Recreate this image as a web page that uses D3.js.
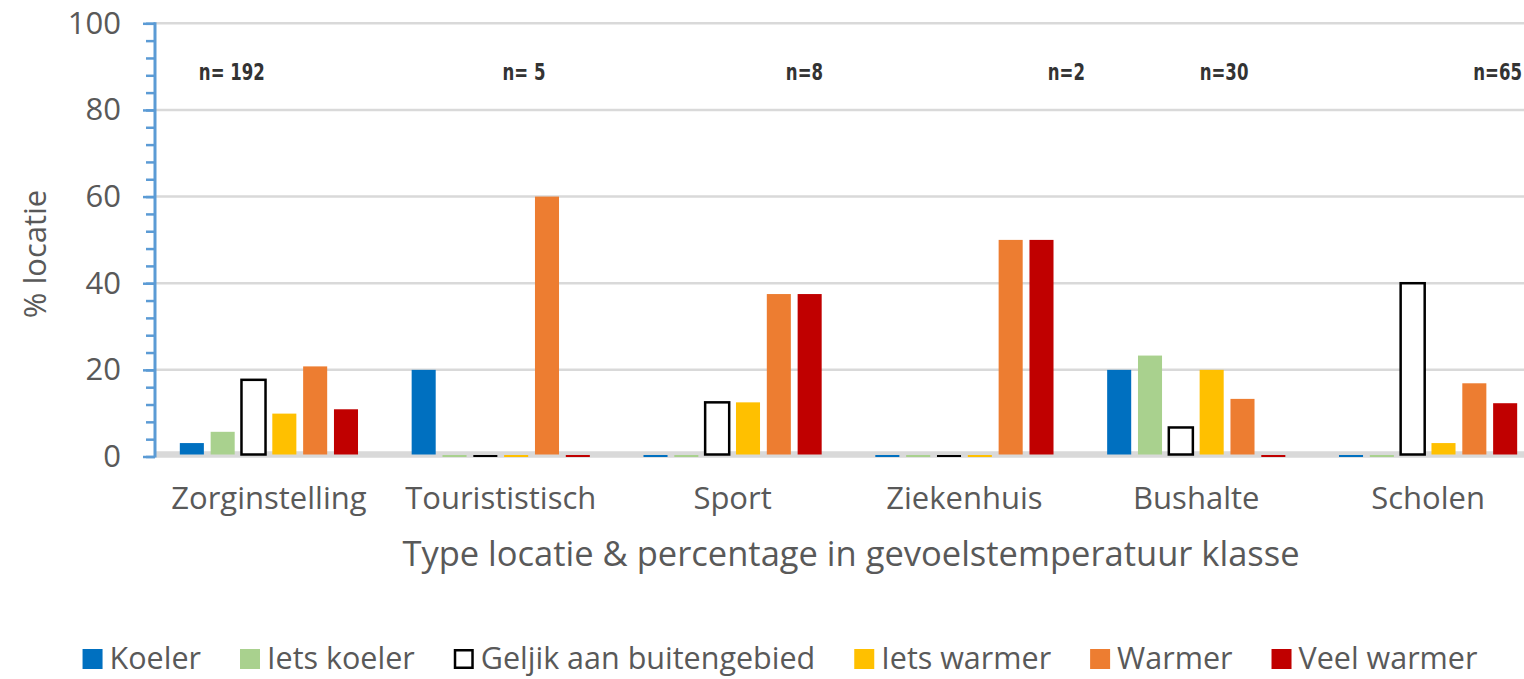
<!DOCTYPE html>
<html>
<head>
<meta charset="utf-8">
<script src="https://cdn.jsdelivr.net/npm/d3@7"></script>
<style>
  body { margin: 0; background: #fff; }
  text { font-family: "Open Sans", "Noto Sans", sans-serif; fill: #595959; }
  .nlab { font-family: "DejaVu Sans Condensed", "Liberation Sans Narrow", sans-serif; font-weight: bold; fill: #333; }
</style>
</head>
<body>
<div id="chart"></div>
<script>
// data
var categories = ["Zorginstelling", "Tourististisch", "Sport", "Ziekenhuis", "Bushalte", "Scholen"];
var seriesNames = ["Koeler", "Iets koeler", "Geljik aan buitengebied", "Iets warmer", "Warmer", "Veel warmer"];
var koeler     = [3.1, 20, 0, 0, 20, 0];
var ietsKoeler = [5.7, 0, 0, 0, 23.3, 0];
var gelijk     = [17.7, 0, 12.5, 0, 6.7, 40];
var ietsWarmer = [9.9, 0, 12.5, 0, 20, 3.1];
var warmer     = [20.8, 60, 37.5, 50, 13.3, 16.9];
var veelWarmer = [10.9, 0, 37.5, 50, 0, 12.3];
var nLabels = ["n= 192", "n= 5", "n=8", "n=2", "n=30", "n=65"];
var yTicks = [0, 20, 40, 60, 80, 100];

var seriesValues = [koeler, ietsKoeler, gelijk, ietsWarmer, warmer, veelWarmer];
var colors = ["#0070c0", "#a9d18e", "#ffffff", "#ffc000", "#ed7d31", "#c00000"];

// n= labels were placed by hand in the original; shift as fraction of the band
var nShift = [-0.16, 0.10, 0.31, 0.44, 0.12, 0.30];

var W = 1524, H = 679;
var svg = d3.select("#chart").append("svg")
    .attr("width", W).attr("height", H);

var x0 = d3.scaleBand().domain(categories).range([153, 1544]).padding(0);
var x1 = d3.scaleBand().domain(seriesNames).range([0, x0.bandwidth()])
    .paddingInner(0.22).paddingOuter(0.87);
var y = d3.scaleLinear().domain([0, 100]).range([456.5, 23.3]);

// gridlines
svg.append("g").selectAll("line")
  .data(yTicks.filter(function(d) { return d > 0; }))
  .enter().append("line")
    .attr("x1", 155).attr("x2", W)
    .attr("y1", function(d) { return y(d); })
    .attr("y2", function(d) { return y(d); })
    .attr("stroke", "#d9d9d9").attr("stroke-width", 2.5);

// baseline
svg.append("line")
  .attr("x1", 155).attr("x2", W)
  .attr("y1", y(0) - 2).attr("y2", y(0) - 2)
  .attr("stroke", "#d9d9d9").attr("stroke-width", 6.5);

// bars
var rows = [];
categories.forEach(function(c, i) {
  seriesNames.forEach(function(s, j) {
    rows.push({cat: c, ser: s, j: j, v: seriesValues[j][i]});
  });
});

svg.append("g").selectAll("rect")
  .data(rows)
  .enter().append("rect")
    .attr("x", function(d) { return x0(d.cat) + x1(d.ser); })
    .attr("width", x1.bandwidth())
    .attr("y", function(d) { return d.v > 0 ? y(d.v) : y(0) - 1.5; })
    .attr("height", function(d) { return d.v > 0 ? y(0) - 2 - y(d.v) : 2; })
    .attr("fill", function(d) { return d.j == 2 && d.v == 0 ? "#000" : colors[d.j]; })
    .attr("stroke", function(d) { return d.j == 2 && d.v > 0 ? "#000" : "none"; })
    .attr("stroke-width", 2.5);

// y axis with minor ticks
var minorTicks = d3.range(0, 101, 4);
svg.append("g")
  .attr("transform", "translate(155,0)")
  .call(d3.axisLeft(y).tickValues(minorTicks).tickSize(9).tickFormat(""))
  .call(function(g) {
    g.selectAll("line").attr("stroke", "#5b9bd5").attr("stroke-width", 2.5);
    g.select(".domain").remove();
  });

svg.append("g")
  .attr("transform", "translate(155,0)")
  .call(d3.axisLeft(y).tickValues(yTicks).tickSize(12).tickPadding(22))
  .call(function(g) {
    g.selectAll("line").attr("stroke", "#5b9bd5").attr("stroke-width", 2.5);
    g.select(".domain").attr("stroke", "#5b9bd5").attr("stroke-width", 3)
      .attr("d", "M0," + (y(100) - 1) + "V" + (y(0) + 1));
    g.selectAll("text").style("font-size", "31px").attr("fill", "#595959")
      .style("font-family", "'Open Sans', sans-serif");
  });

// category labels
svg.append("g").selectAll("text")
  .data(categories)
  .enter().append("text")
    .attr("x", function(d) { return x0(d) + x0.bandwidth() / 2; })
    .attr("y", 509)
    .attr("text-anchor", "middle")
    .style("font-size", "31px")
    .text(function(d) { return d; });

// n labels (condensed, like the original)
svg.append("g").selectAll("text")
  .data(nLabels)
  .enter().append("text")
    .attr("class", "nlab")
    .attr("transform", function(d, i) {
      var cx = x0(categories[i]) + x0.bandwidth() * (0.5 + nShift[i]);
      return "translate(" + cx + ",80) scale(0.8,1)";
    })
    .attr("text-anchor", "middle")
    .style("font-size", "23px")
    .text(function(d) { return d; });

// axis titles
svg.append("text")
  .attr("x", 851).attr("y", 566)
  .attr("text-anchor", "middle")
  .style("font-size", "34.5px")
  .text("Type locatie & percentage in gevoelstemperatuur klasse");

svg.append("text")
  .attr("transform", "translate(46,254) rotate(-90)")
  .attr("text-anchor", "middle")
  .style("font-size", "31px")
  .text("% locatie");

// legend
var legend = svg.append("g");
var lx = 0;
seriesNames.forEach(function(s, j) {
  var item = legend.append("g").attr("transform", "translate(" + lx + ",0)");
  item.append("rect")
    .attr("x", j == 2 ? 1.25 : 0).attr("y", j == 2 ? -8.75 : -10)
    .attr("width", j == 2 ? 17.5 : 20).attr("height", j == 2 ? 17.5 : 20)
    .attr("fill", colors[j])
    .attr("stroke", j == 2 ? "#000" : "none").attr("stroke-width", 2.5);
  var t = item.append("text")
    .attr("x", 27).attr("y", 10)
    .style("font-size", "30.5px")
    .text(s);
  lx += 27 + t.node().getComputedTextLength() + 39;
});
lx -= 39;
legend.attr("transform", "translate(" + (780 - lx / 2) + ",659)");
</script>
</body>
</html>
